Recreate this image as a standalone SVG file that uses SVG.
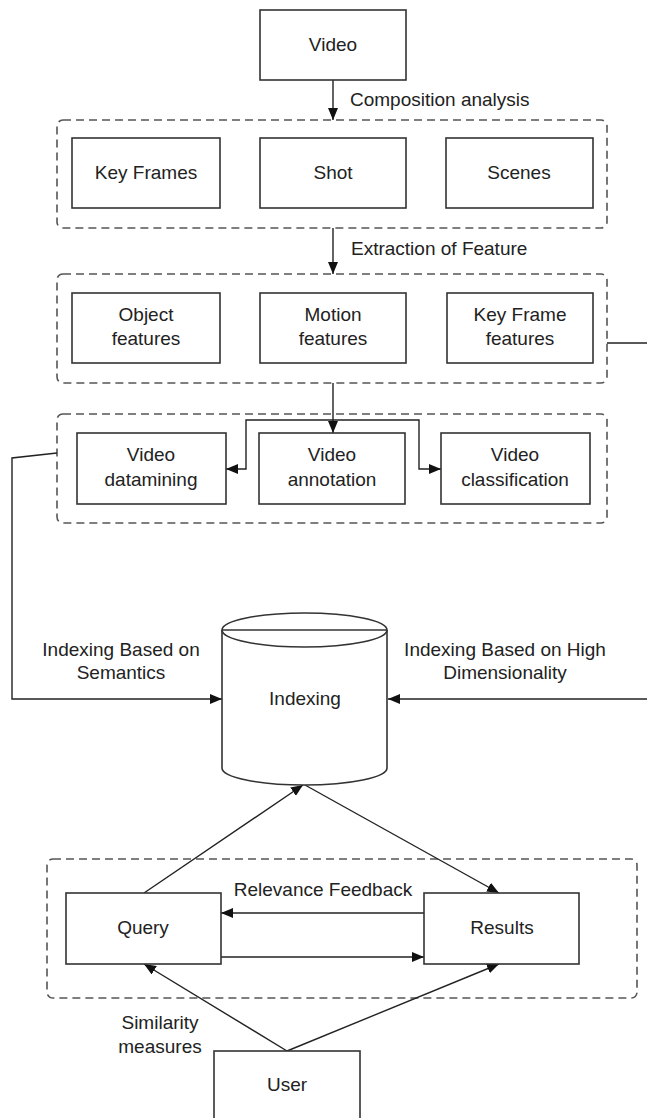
<svg xmlns="http://www.w3.org/2000/svg" width="647" height="1118" viewBox="0 0 647 1118">
<style>
.box{fill:#fff;stroke:#333;stroke-width:1.6}
.grp{fill:none;stroke:#555;stroke-width:1.6;stroke-dasharray:8 5}
.t{font-family:"Liberation Sans",Arial,sans-serif;font-size:19px;fill:#222;text-anchor:middle}
.l{text-anchor:start}
.c{fill:none;stroke:#222;stroke-width:1.4}
</style>
<defs>
<marker id="ah" viewBox="0 0 12 10" refX="12" refY="5" markerWidth="12" markerHeight="10" markerUnits="userSpaceOnUse" orient="auto">
<path d="M0,0 L12,5 L0,10 z" fill="#111"/>
</marker>
</defs>
<rect width="647" height="1118" fill="#fff"/>
<g id="groups">
<rect class="grp" x="57" y="120" width="550" height="108" rx="6"/>
<rect class="grp" x="57" y="274" width="550" height="109" rx="6"/>
<rect class="grp" x="57" y="414" width="550" height="109" rx="6"/>
<rect class="grp" x="47" y="859" width="590" height="139" rx="6"/>
</g>
<g id="connectors">
<line class="c" x1="333" y1="80" x2="333" y2="120" marker-end="url(#ah)"/>
<line class="c" x1="333" y1="228" x2="333" y2="274" marker-end="url(#ah)"/>
<line class="c" x1="333" y1="383" x2="333" y2="433" marker-end="url(#ah)"/>
<path class="c" d="M333,420 H246 V469 H226" marker-end="url(#ah)"/>
<path class="c" d="M333,420 H419 V469 H441" marker-end="url(#ah)"/>
<path class="c" d="M607,343 H647"/>
<path class="c" d="M57,453 L12,458 V699 H222" marker-end="url(#ah)"/>
<path class="c" d="M647,699 H388" marker-end="url(#ah)"/>
<path class="c" d="M144,893 L303,785" marker-end="url(#ah)"/>
<path class="c" d="M305,785 L499,893" marker-end="url(#ah)"/>
<path class="c" d="M424,913 H221" marker-end="url(#ah)"/>
<path class="c" d="M221,957 H424" marker-end="url(#ah)"/>
<path class="c" d="M287,1051 L144,964" marker-end="url(#ah)"/>
<path class="c" d="M287,1051 L499,964" marker-end="url(#ah)"/>
<text class="t l" x="350" y="106">Composition analysis</text>
<text class="t l" x="351" y="255">Extraction of Feature</text>
<text class="t" x="121" y="656">Indexing Based on</text>
<text class="t" x="121" y="679">Semantics</text>
<text class="t" x="505" y="656">Indexing Based on High</text>
<text class="t" x="505" y="679">Dimensionality</text>
<text class="t" x="323" y="896">Relevance Feedback</text>
<text class="t" x="160" y="1029">Similarity</text>
<text class="t" x="160" y="1053">measures</text>
</g>
<g id="video"><rect class="box" x="260" y="10" width="146" height="70"/><text class="t" x="333" y="51">Video</text></g>
<g id="keyframes"><rect class="box" x="72" y="138" width="148" height="70"/><text class="t" x="146" y="179">Key Frames</text></g>
<g id="shot"><rect class="box" x="260" y="138" width="146" height="70"/><text class="t" x="333" y="179">Shot</text></g>
<g id="scenes"><rect class="box" x="446" y="138" width="147" height="70"/><text class="t" x="519" y="179">Scenes</text></g>
<g id="object"><rect class="box" x="72" y="293" width="148" height="70"/><text class="t" x="146" y="321">Object</text><text class="t" x="146" y="345">features</text></g>
<g id="motion"><rect class="box" x="260" y="293" width="146" height="70"/><text class="t" x="333" y="321">Motion</text><text class="t" x="333" y="345">features</text></g>
<g id="keyframefeat"><rect class="box" x="447" y="293" width="146" height="70"/><text class="t" x="520" y="321">Key Frame</text><text class="t" x="520" y="345">features</text></g>
<g id="datamining"><rect class="box" x="77" y="433" width="149" height="71"/><text class="t" x="151" y="461">Video</text><text class="t" x="151" y="486">datamining</text></g>
<g id="annotation"><rect class="box" x="259" y="433" width="146" height="71"/><text class="t" x="332" y="461">Video</text><text class="t" x="332" y="486">annotation</text></g>
<g id="classification"><rect class="box" x="441" y="433" width="149" height="71"/><text class="t" x="515" y="461">Video</text><text class="t" x="515" y="486">classification</text></g>
<g id="indexing">
<path class="box" d="M222,630 V768 A82.5,17 0 0 0 387,768 V630"/>
<ellipse class="box" cx="304.5" cy="630" rx="82.5" ry="17"/>
<line x1="222" y1="630" x2="387" y2="630" stroke="#333" stroke-width="1.6"/>
<text class="t" x="305" y="705">Indexing</text>
</g>
<g id="query"><rect class="box" x="66" y="893" width="155" height="71"/><text class="t" x="143" y="934">Query</text></g>
<g id="results"><rect class="box" x="424" y="893" width="155" height="71"/><text class="t" x="502" y="934">Results</text></g>
<g id="user"><rect class="box" x="214" y="1051" width="146" height="80"/><text class="t" x="287" y="1091">User</text></g>
</svg>
